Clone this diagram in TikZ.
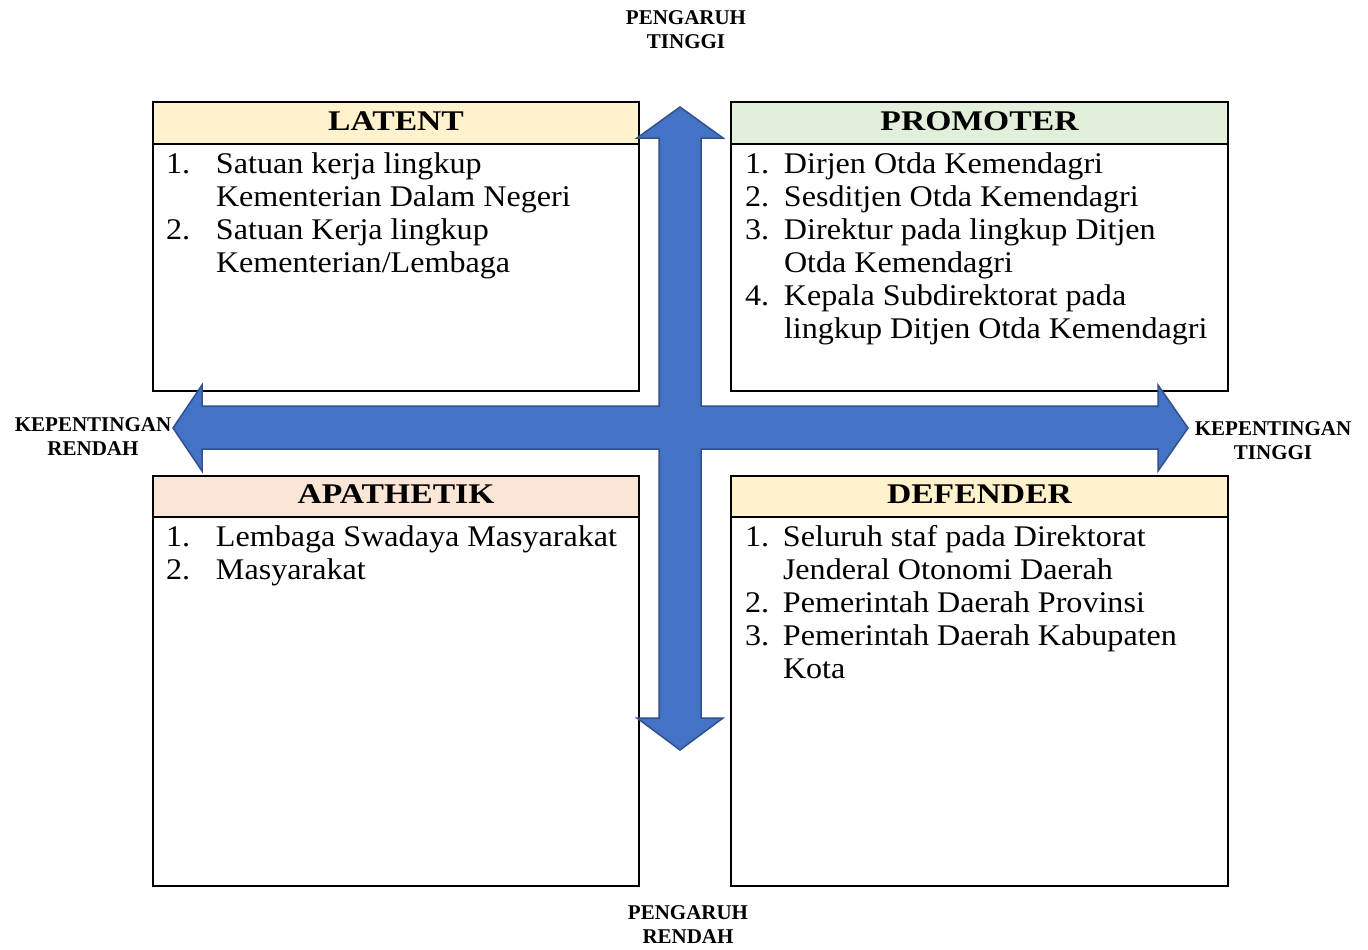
\documentclass[tikz,border=0pt]{standalone}
\usepackage{fontspec}
\usepackage{array}
\setmainfont[FakeStretch=1.07]{Liberation Serif}
\newfontfamily\hdrfont[FakeStretch=1.18]{Liberation Serif}
\newfontfamily\axisfont{Liberation Serif}
\definecolor{hdryellow}{HTML}{FFF2CC}
\definecolor{hdrgreen}{HTML}{E2EFDA}
\definecolor{hdrpeach}{HTML}{FBE5D6}
\definecolor{arrowblue}{HTML}{4472C4}
\definecolor{arrowedge}{HTML}{2F528F}
\begin{document}
\begin{tikzpicture}[x=1pt,y=-1pt,
  quad/.style={draw=black, line width=2.4pt, rectangle, anchor=north west, inner sep=0pt, outer sep=0pt},
  hdr/.style={quad, font=\hdrfont\bfseries\fontsize{28.5}{30}\selectfont},
  hdrtext/.style={inner sep=0pt, font=\hdrfont\bfseries\fontsize{28.5}{30}\selectfont},
  listtext/.style={anchor=base west, inner sep=0pt, outer sep=0pt, font=\fontsize{30}{33}\selectfont},
  axislabel/.style={align=center, inner sep=0pt, font=\axisfont\bfseries\fontsize{21}{24}\selectfont},
  bigarrow/.style={fill=arrowblue, draw=arrowedge, line width=1.5pt, line join=miter}
]
\useasboundingbox (0,0) rectangle (1368,950);

% LATENT
\node[quad, minimum width=486pt, minimum height=289pt] (latent) at (153,102) {};
\node[quad, fill=hdryellow, minimum width=486pt, minimum height=42pt] (latenth) at (153,102) {};
\node[hdrtext] (latentt) at ([yshift=2pt]latenth.center) {LATENT};
\node[listtext] (latentlist) at (166,173) {\begin{tabular}[t]{@{}p{50pt}@{}l@{}}
1. & Satuan kerja lingkup\\
   & Kementerian Dalam Negeri\\
2. & Satuan Kerja lingkup\\
   & Kementerian/Lembaga
\end{tabular}};

% PROMOTER
\node[quad, minimum width=497pt, minimum height=289pt] (promoter) at (731,102) {};
\node[quad, fill=hdrgreen, minimum width=497pt, minimum height=42pt] (promoterh) at (731,102) {};
\node[hdrtext] (promotert) at ([yshift=2pt]promoterh.center) {PROMOTER};
\node[listtext] (promoterlist) at (745,173) {\begin{tabular}[t]{@{}p{39pt}@{}l@{}}
1. & Dirjen Otda Kemendagri\\
2. & Sesditjen Otda Kemendagri\\
3. & Direktur pada lingkup Ditjen\\
   & Otda Kemendagri\\
4. & Kepala Subdirektorat pada\\
   & lingkup Ditjen Otda Kemendagri
\end{tabular}};

% APATHETIK
\node[quad, minimum width=486pt, minimum height=410pt] (apathetik) at (153,476) {};
\node[quad, fill=hdrpeach, minimum width=486pt, minimum height=41pt] (apathetikh) at (153,476) {};
\node[hdrtext] (apathetikt) at ([yshift=2pt]apathetikh.center) {APATHETIK};
\node[listtext] (apathetiklist) at (166,546) {\begin{tabular}[t]{@{}p{50pt}@{}l@{}}
1. & Lembaga Swadaya Masyarakat\\
2. & Masyarakat
\end{tabular}};

% DEFENDER
\node[quad, minimum width=497pt, minimum height=410pt] (defender) at (731,476) {};
\node[quad, fill=hdryellow, minimum width=497pt, minimum height=41pt] (defenderh) at (731,476) {};
\node[hdrtext] (defendert) at ([yshift=2pt]defenderh.center) {DEFENDER};
\node[listtext] (defenderlist) at (745,546) {\begin{tabular}[t]{@{}p{38pt}@{}l@{}}
1. & Seluruh staf pada Direktorat\\
   & Jenderal Otonomi Daerah\\
2. & Pemerintah Daerah Provinsi\\
3. & Pemerintah Daerah Kabupaten\\
   & Kota
\end{tabular}};

% four-headed arrow
\draw[bigarrow] (680,107) -- (723,138) -- (701,138) -- (701,406) -- (1158,406) -- (1158,385)
  -- (1188,428) -- (1158,471) -- (1158,449) -- (701,449) -- (701,718) -- (723,718)
  -- (680,750) -- (637,718) -- (659,718) -- (659,449) -- (202,449) -- (202,471)
  -- (173,428) -- (202,385) -- (202,406) -- (659,406) -- (659,138) -- (637,138) -- cycle;

% axis labels
\node[axislabel] (ptinggi) at (686,30) {PENGARUH\\TINGGI};
\node[axislabel] (prendah) at (688,925) {PENGARUH\\RENDAH};
\node[axislabel] (krendah) at (93,437) {KEPENTINGAN\\RENDAH};
\node[axislabel] (ktinggi) at (1273,441) {KEPENTINGAN\\TINGGI};
\end{tikzpicture}
\end{document}
